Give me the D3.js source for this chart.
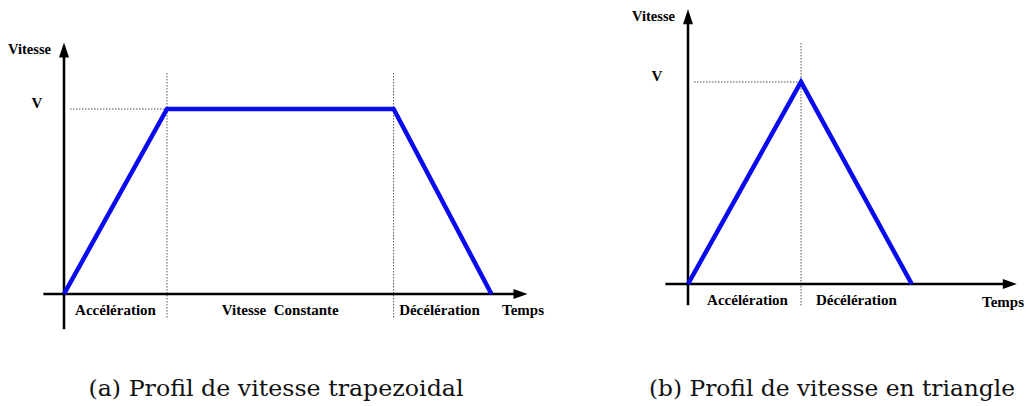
<!DOCTYPE html>
<html>
<head>
<meta charset="utf-8">
<script src="https://cdn.jsdelivr.net/npm/d3@7"></script>
<style>
  html, body { margin: 0; padding: 0; background: #fff; }
  svg { display: block; }
</style>
</head>
<body>
<svg id="chart" width="1026" height="406"></svg>
<script>
// Trapezoidal profile: time breakpoints and normalised speed
const trapTimes = [0, 1, 3.2, 4.15];
const trapSpeed = [0, 1, 1, 0];
const trapPhases = ["Accélération", "Vitesse  Constante", "Décélération"];

// Triangular profile
const triTimes = [0, 1, 1.98];
const triSpeed = [0, 1, 0];
const triPhases = ["Accélération", "Décélération"];

const axisLabelY = "Vitesse";
const axisLabelX = "Temps";
const peakLabel = "V";
const captions = ["(a) Profil de vitesse trapezoidal", "(b) Profil de vitesse en triangle"];

const svg = d3.select("#chart");
const BLUE = "#0a0aee";
const LABEL_FONT = "'Liberation Serif', 'Times New Roman', serif";
const CAPTION_FONT = "'DejaVu Serif', serif";

function drawProfile(cfg) {
  const x = d3.scaleLinear().domain([0, 1]).range([cfg.x0, cfg.x0 + cfg.unitX]);
  const y = d3.scaleLinear().domain([0, 1]).range([cfg.y0, cfg.y0 - cfg.unitY]);
  const g = svg.append("g");
  const times = cfg.times, speed = cfg.speed;
  const tEnd = cfg.tAxisEnd, vEnd = cfg.vAxisEnd;

  // dotted guides: speed level and phase boundaries
  const vLevel = d3.max(speed);
  const peakT = times[speed.indexOf(vLevel)];
  g.append("line")
    .attr("x1", x(0) + 6).attr("x2", x(peakT))
    .attr("y1", y(vLevel)).attr("y2", y(vLevel))
    .attr("stroke", "#555").attr("stroke-width", 1).attr("stroke-dasharray", "1.5,1.5");
  times.slice(1, -1).forEach(t => {
    g.append("line")
      .attr("x1", x(t)).attr("x2", x(t))
      .attr("y1", y(vLevel) - cfg.guideTop).attr("y2", y(0) + cfg.guideBottom)
      .attr("stroke", "#555").attr("stroke-width", 1).attr("stroke-dasharray", "1.5,1.5");
  });

  // axes
  g.append("line")
    .attr("x1", x(cfg.tAxisStart)).attr("x2", x(tEnd) - 10)
    .attr("y1", y(0)).attr("y2", y(0))
    .attr("stroke", "#000").attr("stroke-width", 2.5);
  g.append("line")
    .attr("x1", x(0)).attr("x2", x(0))
    .attr("y1", y(cfg.vAxisStart)).attr("y2", y(vEnd) + 10)
    .attr("stroke", "#000").attr("stroke-width", 2.5);
  // arrowheads
  const tx = x(tEnd), ty = y(0);
  g.append("path").attr("d", `M${tx},${ty} L${tx - 14},${ty - 5} L${tx - 14},${ty + 5} Z`).attr("fill", "#000");
  const ax = x(0), ay = y(vEnd);
  g.append("path").attr("d", `M${ax},${ay} L${ax - 5},${ay + 15} L${ax + 5},${ay + 15} Z`).attr("fill", "#000");

  // profile
  const line = d3.line().x((d, i) => x(times[i])).y(d => y(d));
  g.append("path")
    .datum(speed)
    .attr("d", line)
    .attr("fill", "none")
    .attr("stroke", BLUE)
    .attr("stroke-width", 4.5)
    .attr("stroke-linejoin", "miter");

  // phase labels
  cfg.phases.forEach((p, i) => {
    g.append("text")
      .attr("x", (x(times[i]) + x(times[i + 1])) / 2 + (cfg.phaseShift[i] || 0))
      .attr("y", y(0) + 21)
      .attr("text-anchor", "middle")
      .attr("font-family", LABEL_FONT).attr("font-weight", "bold").attr("font-size", 15)
      .attr("xml:space", "preserve")
      .text(p);
  });
  g.append("text")
    .attr("x", cfg.tempsX).attr("y", y(0) + cfg.tempsDy)
    .attr("text-anchor", "middle")
    .attr("font-family", LABEL_FONT).attr("font-weight", "bold").attr("font-size", 15)
    .text(axisLabelX);
  g.append("text")
    .attr("x", x(0) - 13).attr("y", y(vEnd) + 12)
    .attr("text-anchor", "end")
    .attr("font-family", LABEL_FONT).attr("font-weight", "bold").attr("font-size", 14.5)
    .text(axisLabelY);
  g.append("text")
    .attr("x", cfg.vLabelX).attr("y", y(vLevel) - 1)
    .attr("text-anchor", "middle")
    .attr("font-family", LABEL_FONT).attr("font-weight", "bold").attr("font-size", 15)
    .text(peakLabel);

  svg.append("text")
    .attr("x", cfg.captionX).attr("y", 396)
    .attr("text-anchor", "middle")
    .attr("font-family", CAPTION_FONT).attr("font-size", 23)
    .attr("textLength", cfg.captionWidth).attr("lengthAdjust", "spacingAndGlyphs")
    .attr("fill", "#111")
    .text(cfg.caption);
}

drawProfile({
  times: trapTimes, speed: trapSpeed, phases: trapPhases, phaseShift: [0, 0, -3],
  x0: 64, unitX: 103, y0: 294, unitY: 185,
  tAxisStart: -0.2, tAxisEnd: 4.5, vAxisStart: -0.19, vAxisEnd: 1.36,
  guideTop: 36, guideBottom: 24,
  tempsX: 523, tempsDy: 21, vLabelX: 37,
  caption: captions[0], captionX: 276, captionWidth: 375
});

drawProfile({
  times: triTimes, speed: triSpeed, phases: triPhases, phaseShift: [3, 0],
  x0: 688, unitX: 113, y0: 284, unitY: 202,
  tAxisStart: -0.2, tAxisEnd: 2.91, vAxisStart: -0.105, vAxisEnd: 1.36,
  guideTop: 39, guideBottom: 23,
  tempsX: 1003, tempsDy: 23, vLabelX: 657,
  caption: captions[1], captionX: 832, captionWidth: 366
});
</script>
</body>
</html>
